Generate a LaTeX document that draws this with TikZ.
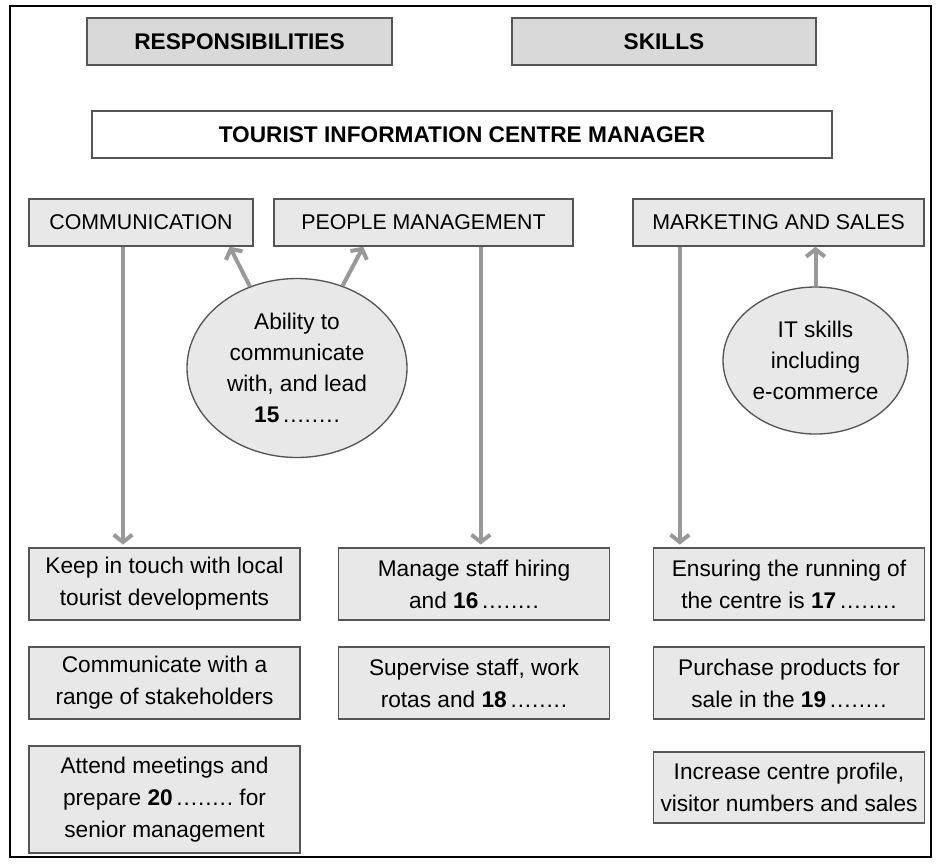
\documentclass[tikz,border=0pt]{standalone}
\usepackage{fontspec}
\setmainfont{Liberation Sans}
\usetikzlibrary{shapes.geometric,arrows.meta}
\definecolor{hdgray}{HTML}{D9D9D9}
\definecolor{boxgray}{HTML}{E8E8E8}
\definecolor{edgegray}{HTML}{555555}
\definecolor{arrgray}{HTML}{999999}
\newcommand{\blank}[1]{\textbf{#1}\,\makebox[2.5em]{.\hfill.\hfill.\hfill.\hfill.\hfill.\hfill.\hfill.}}

\begin{document}
\begin{tikzpicture}[x=.75pt,y=-.75pt,
    box/.style={draw=edgegray,line width=1.1pt,fill=boxgray,inner sep=0pt,
      align=center,font=\fontsize{17}{24}\selectfont},
    head/.style={box,fill=hdgray,minimum height=35.25pt,
      font=\fontsize{17}{20}\selectfont\bfseries},
    cat/.style={box,minimum height=35.25pt,font=\fontsize{16}{20}\selectfont},
    task/.style={box,minimum width=203.25pt,minimum height=54pt},
    skill/.style={ellipse,draw=edgegray,line width=1pt,fill=boxgray,inner sep=0pt,
      align=center,font=\fontsize{17}{23.25}\selectfont},
    arr/.style={draw=arrgray,line width=3pt,-{Straight Barb[length=5.5pt,width=14pt]}}]
  \useasboundingbox (0,0) rectangle (940,865);
  \draw[line width=1.1pt] (10,6) rectangle (931,857);
  % headings
  \node[head,minimum width=228.75pt] (resp) at (239.5,41.5) {RESPONSIBILITIES};
  \node[head,minimum width=228pt] (skills) at (664,41.5) {SKILLS};
  \node[head,fill=white,minimum width=555pt] (tic) at (462,134.5)
  {TOURIST INFORMATION CENTRE MANAGER};
  \node[cat,minimum width=168pt] (comm) at (141,222.5) {COMMUNICATION};
  \node[cat,minimum width=224.25pt] (people) at (423.5,222.5) {PEOPLE MANAGEMENT};
  \node[cat,minimum width=218.25pt] (market) at (778.5,222.5) {MARKETING AND SALES};
  % skills
  \node[skill,minimum width=165pt,minimum height=134.25pt] (abil) at (297,368)
  {Ability to\\communicate\\with, and lead\\\blank{15}};
  \node[skill,minimum width=138.75pt,minimum height=110.25pt] (it) at (815.5,360.5)
  {IT skills\\including\\e-commerce};
  % responsibilities
  \node[task] (k1) at (164.5,584) {Keep in touch with local\\tourist developments};
  \node[task] (k2) at (164.5,683) {Communicate with a\\range of stakeholders};
  \node[task,minimum height=80.25pt] (k3) at (164.5,799.5)
  {Attend meetings and\\prepare \blank{20} for\\senior management};
  \node[task] (m1) at (474,584) {Manage staff hiring\\and \blank{16}};
  \node[task] (m2) at (474,683) {Supervise staff, work\\rotas and \blank{18}};
  \node[task] (r1) at (789,584) {Ensuring the running of\\the centre is \blank{17}};
  \node[task] (r2) at (789,683) {Purchase products for\\sale in the \blank{19}};
  \node[task,minimum height=53.25pt] (r3) at (789,787.5)
  {Increase centre profile,\\visitor numbers and sales};
  % arrows
  \draw[arr,shorten >=2pt] ([xshift=-13.5pt]comm.south) -- ([xshift=-13.5pt]comm.south |- k1.north);
  \draw[arr,shorten >=2pt] ([xshift=43pt]people.south) -- ([xshift=43pt]people.south |- m1.north);
  \draw[arr,shorten >=2pt] ([xshift=-74pt]market.south) -- ([xshift=-74pt]market.south |- r1.north);
  \draw[arr] (abil.120) -- ([xshift=-18pt]comm.south east);
  \draw[arr] (abil.61) -- ([xshift=67.5pt]people.south west);
  \draw[arr] (it.north) -- (it.north |- market.south);
\end{tikzpicture}
\end{document}
